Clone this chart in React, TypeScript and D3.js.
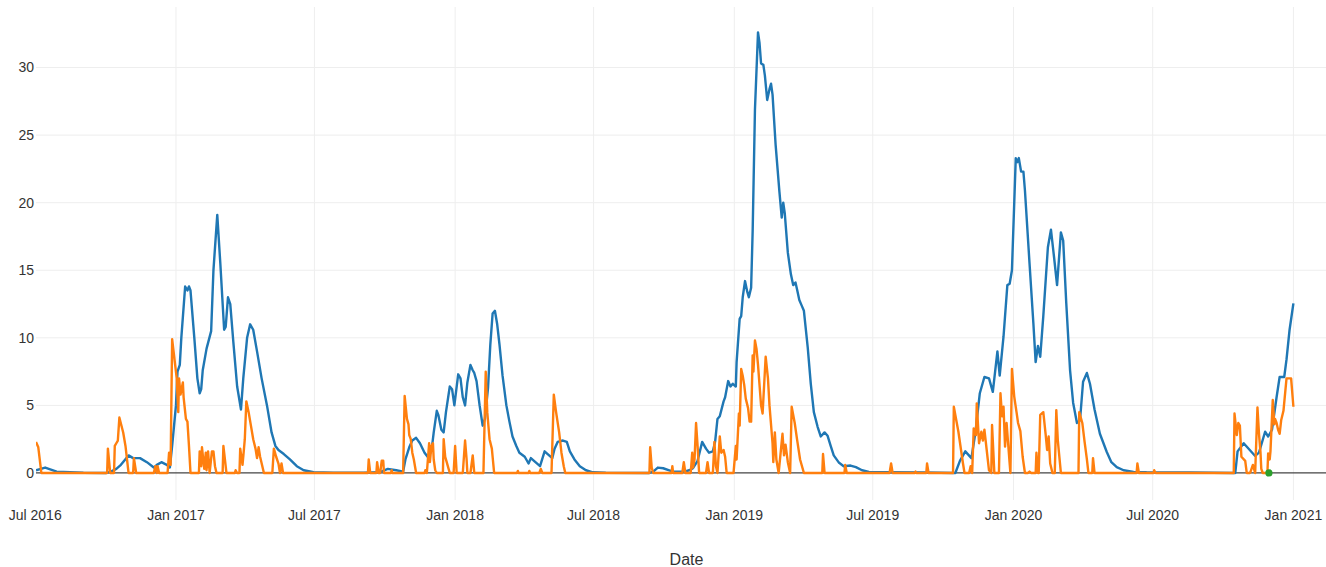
import * as d3 from "d3";

// x ticks every six months, y ticks every 5
const xTicks = ["2016-07-01", "2017-01-01", "2017-07-01", "2018-01-01", "2018-07-01", "2019-01-01", "2019-07-01", "2020-01-01", "2020-07-01", "2021-01-01"];
const yTicks = [0, 5, 10, 15, 20, 25, 30];

// smooth series (blue)
const blueSeries: [string, number][] = [
  ["2016-07-02", 0.2], ["2016-07-14", 0.4], ["2016-07-29", 0.1], ["2016-09-02", 0.02], ["2016-10-02", 0],
  ["2016-10-08", 0.1], ["2016-10-15", 0.3], ["2016-10-21", 0.6], ["2016-10-31", 1.3], ["2016-11-06", 1.1],
  ["2016-11-15", 1.1], ["2016-11-24", 0.8], ["2016-12-03", 0.4], ["2016-12-07", 0.6], ["2016-12-13", 0.8],
  ["2016-12-20", 0.6], ["2016-12-24", 0.4], ["2016-12-27", 2.0], ["2017-01-01", 5.0], ["2017-01-03", 7.5],
  ["2017-01-06", 8.0], ["2017-01-08", 10], ["2017-01-13", 13.8], ["2017-01-16", 13.5], ["2017-01-18", 13.8],
  ["2017-01-20", 13.5], ["2017-01-25", 10], ["2017-01-29", 7], ["2017-02-01", 5.9], ["2017-02-03", 6.2],
  ["2017-02-05", 7.6], ["2017-02-10", 9.2], ["2017-02-16", 10.5], ["2017-02-19", 15], ["2017-02-24", 19.1],
  ["2017-02-28", 15.5], ["2017-03-05", 10.6], ["2017-03-07", 10.8], ["2017-03-10", 13.0], ["2017-03-13", 12.5],
  ["2017-03-17", 9.7], ["2017-03-22", 6.4], ["2017-03-27", 4.7], ["2017-03-30", 7.0], ["2017-04-04", 10],
  ["2017-04-08", 11.0], ["2017-04-12", 10.6], ["2017-04-17", 9], ["2017-04-23", 7.0], ["2017-04-30", 5.0],
  ["2017-05-06", 3.0], ["2017-05-11", 2.0], ["2017-05-15", 1.7], ["2017-05-22", 1.4], ["2017-05-30", 1.0],
  ["2017-06-08", 0.5], ["2017-06-17", 0.2], ["2017-06-30", 0.05], ["2017-07-26", 0.02], ["2017-09-03", 0.02],
  ["2017-09-24", 0.05], ["2017-10-05", 0.3], ["2017-10-16", 0.2], ["2017-10-25", 0.1], ["2017-10-28", 1.0],
  ["2017-11-02", 1.9], ["2017-11-06", 2.4], ["2017-11-11", 2.6], ["2017-11-16", 2.2], ["2017-11-22", 1.5],
  ["2017-11-26", 1.2], ["2017-12-01", 1.6], ["2017-12-04", 3.0], ["2017-12-08", 4.6], ["2017-12-10", 4.3],
  ["2017-12-14", 3.2], ["2017-12-17", 3.0], ["2017-12-20", 4.5], ["2017-12-25", 6.4], ["2017-12-28", 6.2],
  ["2017-12-31", 5.0], ["2018-01-05", 7.3], ["2018-01-08", 7.0], ["2018-01-11", 5.6], ["2018-01-14", 5.0],
  ["2018-01-17", 6.7], ["2018-01-21", 8.0], ["2018-01-24", 7.6], ["2018-01-26", 7.4], ["2018-01-29", 6.8],
  ["2018-02-02", 5.0], ["2018-02-06", 3.5], ["2018-02-09", 4.0], ["2018-02-13", 6.3], ["2018-02-16", 9.5],
  ["2018-02-19", 11.8], ["2018-02-22", 12.0], ["2018-02-25", 11.0], ["2018-02-28", 9.5], ["2018-03-04", 7.2],
  ["2018-03-09", 5.0], ["2018-03-13", 3.8], ["2018-03-17", 2.7], ["2018-03-22", 2.0], ["2018-03-26", 1.5],
  ["2018-04-02", 1.2], ["2018-04-07", 0.7], ["2018-04-10", 1.1], ["2018-04-16", 0.8], ["2018-04-22", 0.5],
  ["2018-04-28", 1.6], ["2018-05-02", 1.4], ["2018-05-08", 1.1], ["2018-05-11", 1.8], ["2018-05-15", 2.3],
  ["2018-05-22", 2.4], ["2018-05-27", 2.3], ["2018-05-31", 1.6], ["2018-06-06", 1.0], ["2018-06-13", 0.5],
  ["2018-06-21", 0.2], ["2018-06-30", 0.05], ["2018-07-17", 0.02], ["2018-09-12", 0], ["2018-09-17", 0.1],
  ["2018-09-23", 0.4], ["2018-09-30", 0.35], ["2018-10-08", 0.2], ["2018-10-13", 0.1], ["2018-10-28", 0.1],
  ["2018-11-03", 0.2], ["2018-11-08", 0.35], ["2018-11-14", 0.9], ["2018-11-20", 2.3], ["2018-11-25", 1.8],
  ["2018-11-29", 1.5], ["2018-12-04", 1.6], ["2018-12-07", 2.35], ["2018-12-10", 4.0], ["2018-12-13", 4.2],
  ["2018-12-18", 5.3], ["2018-12-20", 5.6], ["2018-12-24", 6.8], ["2018-12-27", 6.4], ["2018-12-30", 6.6],
  ["2019-01-03", 6.4], ["2019-01-04", 8.2], ["2019-01-08", 11.4], ["2019-01-10", 11.6], ["2019-01-12", 13.0],
  ["2019-01-15", 14.2], ["2019-01-18", 13.4], ["2019-01-20", 13.0], ["2019-01-23", 13.7], ["2019-01-25", 17.9],
  ["2019-01-28", 26.9], ["2019-02-01", 32.6], ["2019-02-03", 31.8], ["2019-02-05", 30.3], ["2019-02-08", 30.2],
  ["2019-02-10", 29.4], ["2019-02-13", 27.6], ["2019-02-16", 28.4], ["2019-02-18", 28.8], ["2019-02-20", 28.0],
  ["2019-02-24", 24.3], ["2019-03-01", 20.8], ["2019-03-04", 18.9], ["2019-03-06", 20.0], ["2019-03-08", 19.2],
  ["2019-03-12", 16.3], ["2019-03-16", 14.7], ["2019-03-19", 13.9], ["2019-03-22", 14.1], ["2019-03-24", 13.6],
  ["2019-03-27", 12.8], ["2019-03-30", 12.4], ["2019-04-02", 12.0], ["2019-04-07", 9.3], ["2019-04-11", 6.6],
  ["2019-04-15", 4.5], ["2019-04-20", 3.4], ["2019-04-24", 2.7], ["2019-04-29", 3.0], ["2019-05-03", 2.75],
  ["2019-05-07", 2.0], ["2019-05-11", 1.3], ["2019-05-18", 0.75], ["2019-05-24", 0.5], ["2019-06-02", 0.55],
  ["2019-06-09", 0.43], ["2019-06-17", 0.2], ["2019-06-26", 0.08], ["2019-07-18", 0.05], ["2019-09-08", 0.03],
  ["2019-10-17", 0], ["2019-10-23", 0.9], ["2019-10-30", 1.6], ["2019-11-07", 1.1], ["2019-11-12", 2.9],
  ["2019-11-18", 5.9], ["2019-11-24", 7.1], ["2019-11-30", 7.0], ["2019-12-05", 6.0], ["2019-12-11", 9.0],
  ["2019-12-14", 7.2], ["2019-12-19", 10.1], ["2019-12-24", 13.9], ["2019-12-27", 14.0], ["2019-12-30", 15.0],
  ["2020-01-04", 23.3], ["2020-01-06", 23.0], ["2020-01-08", 23.3], ["2020-01-11", 22.3], ["2020-01-14", 22.3],
  ["2020-01-16", 20.9], ["2020-01-22", 15.5], ["2020-01-27", 11.1], ["2020-01-30", 8.2], ["2020-02-02", 9.4],
  ["2020-02-05", 8.6], ["2020-02-09", 11.6], ["2020-02-15", 16.7], ["2020-02-19", 18.0], ["2020-02-23", 16.0],
  ["2020-02-27", 13.9], ["2020-03-03", 17.8], ["2020-03-06", 17.2], ["2020-03-10", 12.6], ["2020-03-15", 7.6],
  ["2020-03-19", 5.2], ["2020-03-24", 3.7], ["2020-03-28", 3.9], ["2020-04-01", 6.75], ["2020-04-06", 7.4],
  ["2020-04-10", 6.6], ["2020-04-16", 4.7], ["2020-04-23", 2.9], ["2020-05-02", 1.55], ["2020-05-08", 0.8],
  ["2020-05-15", 0.43], ["2020-05-24", 0.2], ["2020-06-06", 0.08], ["2020-06-23", 0.05], ["2020-08-19", 0.03],
  ["2020-10-17", 0], ["2020-10-20", 1.6], ["2020-10-28", 2.2], ["2020-11-12", 1.26], ["2020-11-17", 1.5],
  ["2020-11-25", 3.05], ["2020-11-29", 2.7], ["2020-12-04", 3.2], ["2020-12-10", 5.6], ["2020-12-14", 7.1],
  ["2020-12-20", 7.1], ["2020-12-23", 8.4], ["2020-12-27", 10.6], ["2021-01-01", 12.55],
];

// spiky series (orange)
const orangeSeries: [string, number][] = [
  ["2016-07-02", 2.3], ["2016-07-05", 1.9], ["2016-07-09", 0], ["2016-10-03", 0], ["2016-10-04", 1.8],
  ["2016-10-07", 0], ["2016-10-12", 0], ["2016-10-13", 2.0], ["2016-10-15", 2.2], ["2016-10-17", 2.4],
  ["2016-10-19", 4.1], ["2016-10-24", 3.0], ["2016-10-27", 2.0], ["2016-10-29", 1.0], ["2016-10-31", 0],
  ["2016-11-06", 0], ["2016-11-07", 1.1], ["2016-11-10", 0], ["2016-12-03", 0], ["2016-12-05", 0.5],
  ["2016-12-07", 0], ["2016-12-08", 0.5], ["2016-12-10", 0], ["2016-12-21", 0], ["2016-12-23", 1.5],
  ["2016-12-25", 0.6], ["2016-12-27", 9.9], ["2017-01-02", 7.0], ["2017-01-04", 4.5], ["2017-01-05", 7.0],
  ["2017-01-07", 5.8], ["2017-01-10", 6.7], ["2017-01-11", 5.6], ["2017-01-14", 4.0], ["2017-01-16", 3.8],
  ["2017-01-18", 2.0], ["2017-01-20", 0], ["2017-01-31", 0], ["2017-02-01", 1.6], ["2017-02-03", 0.5],
  ["2017-02-04", 1.9], ["2017-02-07", 0.3], ["2017-02-09", 1.5], ["2017-02-10", 0.2], ["2017-02-12", 1.6],
  ["2017-02-14", 0], ["2017-02-17", 1.6], ["2017-02-19", 1.6], ["2017-02-21", 0.5], ["2017-02-23", 0],
  ["2017-03-03", 0], ["2017-03-04", 2.0], ["2017-03-08", 0], ["2017-03-19", 0], ["2017-03-20", 0.2],
  ["2017-03-22", 0], ["2017-03-25", 0], ["2017-03-26", 1.8], ["2017-03-29", 0.6], ["2017-03-30", 1.2],
  ["2017-04-01", 2.5], ["2017-04-03", 5.3], ["2017-04-06", 4.5], ["2017-04-09", 3.5], ["2017-04-12", 2.5],
  ["2017-04-15", 1.8], ["2017-04-17", 1.1], ["2017-04-19", 1.9], ["2017-04-21", 1.2], ["2017-04-26", 0],
  ["2017-05-07", 0], ["2017-05-09", 1.8], ["2017-05-12", 1.2], ["2017-05-15", 0.7], ["2017-05-17", 0],
  ["2017-05-19", 0.7], ["2017-05-21", 0], ["2017-09-09", 0], ["2017-09-10", 1.0], ["2017-09-12", 0],
  ["2017-09-20", 0], ["2017-09-21", 0.8], ["2017-09-23", 0], ["2017-09-25", 0], ["2017-09-27", 0.9],
  ["2017-09-29", 0.9], ["2017-09-30", 0], ["2017-10-09", 0], ["2017-10-10", 0.2], ["2017-10-11", 0],
  ["2017-10-25", 0], ["2017-10-27", 5.7], ["2017-10-30", 4.0], ["2017-11-01", 3.6], ["2017-11-02", 2.8],
  ["2017-11-04", 2.5], ["2017-11-06", 1.5], ["2017-11-08", 1.0], ["2017-11-11", 0], ["2017-11-22", 0],
  ["2017-11-23", 0.2], ["2017-11-25", 0], ["2017-11-28", 2.2], ["2017-11-29", 0.8], ["2017-12-01", 2.0],
  ["2017-12-03", 2.2], ["2017-12-04", 1.0], ["2017-12-06", 0.2], ["2017-12-08", 0], ["2017-12-16", 0],
  ["2017-12-17", 2.5], ["2017-12-19", 1.2], ["2017-12-21", 0.8], ["2017-12-23", 0.4], ["2017-12-25", 0],
  ["2017-12-30", 0], ["2018-01-01", 2.0], ["2018-01-03", 0], ["2018-01-11", 0], ["2018-01-14", 2.4],
  ["2018-01-16", 1.0], ["2018-01-17", 0], ["2018-01-21", 0], ["2018-01-24", 1.3], ["2018-01-26", 0],
  ["2018-02-07", 0], ["2018-02-10", 7.5], ["2018-02-12", 4.5], ["2018-02-15", 2.5], ["2018-02-18", 1.8],
  ["2018-02-19", 1.2], ["2018-02-21", 0], ["2018-03-23", 0], ["2018-03-24", 0.15], ["2018-03-25", 0],
  ["2018-04-07", 0], ["2018-04-08", 0.15], ["2018-04-09", 0], ["2018-04-21", 0], ["2018-04-23", 0.3],
  ["2018-04-25", 0], ["2018-05-07", 0], ["2018-05-10", 5.8], ["2018-05-13", 4.5], ["2018-05-17", 3.0],
  ["2018-05-20", 1.5], ["2018-05-23", 0.5], ["2018-05-25", 0], ["2018-09-12", 0], ["2018-09-13", 1.9],
  ["2018-09-15", 0.4], ["2018-09-17", 0], ["2018-10-11", 0], ["2018-10-12", 0.5], ["2018-10-13", 0],
  ["2018-10-25", 0], ["2018-10-27", 0.8], ["2018-10-29", 0], ["2018-11-05", 0], ["2018-11-07", 1.5],
  ["2018-11-08", 0.4], ["2018-11-10", 1.0], ["2018-11-12", 3.7], ["2018-11-14", 2.0], ["2018-11-16", 0],
  ["2018-11-25", 0], ["2018-11-27", 0.8], ["2018-11-29", 0], ["2018-12-04", 0], ["2018-12-06", 2.3],
  ["2018-12-08", 0.5], ["2018-12-10", 0], ["2018-12-13", 2.7], ["2018-12-15", 1.5], ["2018-12-18", 1.7],
  ["2018-12-20", 1.2], ["2018-12-22", 0], ["2018-12-31", 0], ["2019-01-03", 2.0], ["2019-01-04", 1.0],
  ["2019-01-07", 4.4], ["2019-01-08", 3.5], ["2019-01-10", 7.7], ["2019-01-12", 7.2], ["2019-01-14", 6.5],
  ["2019-01-16", 5.5], ["2019-01-19", 4.8], ["2019-01-21", 3.8], ["2019-01-23", 3.8], ["2019-01-25", 8.7],
  ["2019-01-26", 7.5], ["2019-01-28", 9.8], ["2019-01-30", 9.2], ["2019-02-01", 8.0], ["2019-02-05", 5.0],
  ["2019-02-07", 4.4], ["2019-02-11", 8.6], ["2019-02-14", 7.0], ["2019-02-16", 5.0], ["2019-02-20", 2.2],
  ["2019-02-21", 0.8], ["2019-02-23", 3.0], ["2019-02-25", 1.0], ["2019-02-28", 0], ["2019-03-05", 2.9],
  ["2019-03-07", 1.3], ["2019-03-09", 2.1], ["2019-03-12", 0.8], ["2019-03-15", 0], ["2019-03-17", 4.9],
  ["2019-03-21", 3.7], ["2019-03-24", 2.5], ["2019-03-28", 1.0], ["2019-04-01", 0.2], ["2019-04-02", 0],
  ["2019-04-26", 0], ["2019-04-27", 1.4], ["2019-04-29", 0], ["2019-05-25", 0], ["2019-05-26", 0.6],
  ["2019-05-28", 0], ["2019-07-23", 0], ["2019-07-25", 0.7], ["2019-07-27", 0], ["2019-08-25", 0],
  ["2019-08-26", 0.1], ["2019-08-27", 0], ["2019-09-09", 0], ["2019-09-10", 0.7], ["2019-09-12", 0],
  ["2019-10-14", 0], ["2019-10-15", 4.9], ["2019-10-21", 3.05], ["2019-10-27", 0.7], ["2019-10-29", 0],
  ["2019-11-04", 0], ["2019-11-06", 0.5], ["2019-11-08", 0], ["2019-11-10", 3.3], ["2019-11-13", 2.8],
  ["2019-11-14", 5.15], ["2019-11-17", 2.2], ["2019-11-20", 3.05], ["2019-11-22", 2.4], ["2019-11-24", 3.2],
  ["2019-11-27", 1.7], ["2019-11-30", 0.2], ["2019-12-03", 0], ["2019-12-04", 3.55], ["2019-12-07", 0],
  ["2019-12-13", 0], ["2019-12-15", 5.9], ["2019-12-17", 4.2], ["2019-12-19", 4.9], ["2019-12-21", 1.95],
  ["2019-12-23", 3.7], ["2019-12-27", 0.7], ["2019-12-28", 0], ["2019-12-30", 7.7], ["2020-01-02", 5.65],
  ["2020-01-05", 4.5], ["2020-01-07", 3.7], ["2020-01-10", 3.1], ["2020-01-13", 1.2], ["2020-01-16", 0],
  ["2020-01-20", 0], ["2020-01-22", 0.1], ["2020-01-24", 0], ["2020-01-30", 0], ["2020-01-31", 1.5],
  ["2020-02-02", 0], ["2020-02-03", 0], ["2020-02-05", 4.3], ["2020-02-09", 4.5], ["2020-02-12", 2.9],
  ["2020-02-14", 1.7], ["2020-02-16", 2.7], ["2020-02-18", 0.7], ["2020-02-21", 0], ["2020-02-24", 0],
  ["2020-02-26", 4.65], ["2020-02-28", 2.4], ["2020-03-03", 0], ["2020-03-26", 0], ["2020-03-27", 4.5],
  ["2020-03-31", 3.7], ["2020-04-03", 2.3], ["2020-04-06", 1.0], ["2020-04-08", 0], ["2020-04-13", 0],
  ["2020-04-14", 1.1], ["2020-04-16", 0], ["2020-06-10", 0], ["2020-06-11", 0.7], ["2020-06-13", 0],
  ["2020-07-02", 0], ["2020-07-03", 0.2], ["2020-07-05", 0], ["2020-10-15", 0], ["2020-10-16", 4.4],
  ["2020-10-19", 2.8], ["2020-10-21", 3.7], ["2020-10-23", 3.5], ["2020-10-25", 1.2], ["2020-10-30", 0.9],
  ["2020-11-01", 0], ["2020-11-05", 0], ["2020-11-06", 0.1], ["2020-11-09", 0.6], ["2020-11-12", 0],
  ["2020-11-15", 4.85], ["2020-11-17", 2.9], ["2020-11-19", 1.5], ["2020-11-20", 0.3], ["2020-11-22", 0],
  ["2020-11-28", 0], ["2020-11-29", 1.45], ["2020-12-01", 1.0], ["2020-12-02", 1.6], ["2020-12-05", 5.4],
  ["2020-12-07", 3.6], ["2020-12-08", 4.0], ["2020-12-10", 3.7], ["2020-12-12", 3.2], ["2020-12-14", 2.9],
  ["2020-12-16", 3.9], ["2020-12-19", 4.6], ["2020-12-23", 7.0], ["2020-12-29", 7.0], ["2021-01-01", 4.9],
];

// single marker (green)
const greenPoints: [string, number][] = [["2020-11-30", 0]];

const parse = d3.utcParse("%Y-%m-%d");
const fmt = d3.utcFormat("%b %Y");
const font = "'Liberation Sans', Arial, Helvetica, sans-serif";

export default function App() {
  const width = 1326, height = 567;
  const plot = { left: 36, right: 1337, top: 7, bottom: 500 };

  const x = d3.scaleUtc()
    .domain([parse("2016-07-02")!, parse("2021-02-27")!])
    .range([plot.left, plot.right]);
  const y = d3.scaleLinear().domain([-2, 34.48]).range([plot.bottom, plot.top]);

  const line = d3.line<[string, number]>()
    .x(d => x(parse(d[0])!))
    .y(d => y(d[1]));

  const xt = xTicks.map(parse) as Date[];

  return (
    <svg width={width} height={height} style={{ position: "absolute", left: 0, top: 0, background: "#fff" }}>
      <defs>
        <clipPath id="plotclip">
          <rect x={plot.left} y={plot.top} width={plot.right - plot.left} height={plot.bottom - plot.top} />
        </clipPath>
      </defs>
      {/* grid */}
      <g stroke="#eeeeee" strokeWidth={1}>
        {xt.filter(d => x(d) > plot.left + 1).map(d => (
          <line key={d.toISOString()} x1={x(d)} x2={x(d)} y1={plot.top} y2={plot.bottom} />
        ))}
        {yTicks.filter(v => v !== 0).map(v => (
          <line key={v} x1={plot.left} x2={plot.right} y1={y(v)} y2={y(v)} />
        ))}
      </g>
      <line x1={plot.left} x2={plot.right} y1={y(0)} y2={y(0)} stroke="#444" strokeWidth={1.2} />
      {/* traces */}
      <g clipPath="url(#plotclip)" fill="none" strokeWidth={2.4} strokeLinejoin="round">
        <path d={line(blueSeries) ?? ""} stroke="#1f77b4" />
        <path d={line(orangeSeries) ?? ""} stroke="#ff7f0e" />
      </g>
      {greenPoints.map(d => (
        <circle key={d[0]} cx={x(parse(d[0])!)} cy={y(d[1])} r={3.6} fill="#2ca02c" />
      ))}
      {/* y tick labels */}
      <g fontFamily={font} fontSize={14} fill="#333" textAnchor="end">
        {yTicks.map(v => (
          <text key={v} x={plot.left - 2} y={y(v)} dy="0.35em">{v}</text>
        ))}
      </g>
      {/* x tick labels */}
      <g fontFamily={font} fontSize={14} fill="#333" textAnchor="middle">
        {xt.map(d => (
          <text key={d.toISOString()} x={x(d)} y={520}>{fmt(d)}</text>
        ))}
      </g>
      <text x={(plot.left + plot.right) / 2} y={565} textAnchor="middle" fontFamily={font} fontSize={16} fill="#333">Date</text>
    </svg>
  );
}
